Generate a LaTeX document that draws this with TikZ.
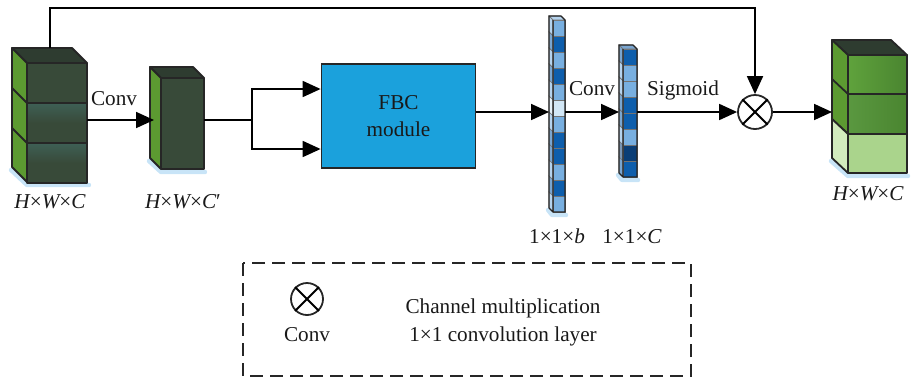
\documentclass[tikz,border=0pt]{standalone}
\usepackage{fontspec}
\setmainfont{Liberation Serif}
\usetikzlibrary{arrows.meta,positioning}
\definecolor{cubefront}{HTML}{384A39}
\definecolor{cubeteal}{HTML}{3E5F55}
\definecolor{cubeside}{HTML}{5C9A31}
\definecolor{cubetop}{HTML}{2E3C30}
\definecolor{outgreen}{HTML}{5FA23C}
\definecolor{outdark}{HTML}{4A8530}
\definecolor{outlight}{HTML}{AAD48C}
\definecolor{outside}{HTML}{D2EBBE}
\definecolor{fbcblue}{HTML}{1BA1DC}
\definecolor{glowblue}{HTML}{C8E4F7}
\definecolor{lb}{HTML}{78AFE0}
\definecolor{db}{HTML}{0E5EAC}
\definecolor{vb}{HTML}{D2E7F6}
\definecolor{kb}{HTML}{0B3E76}

\begin{document}
\begin{tikzpicture}[x=0.5pt, y=-0.5pt, line width=0.9pt,
	every node/.style={font=\fontsize{10.6}{13.5}\selectfont, text=black!90},
	arr/.style={-{Triangle[length=9pt,width=8pt]}},
	face/.style={draw=black!85, line join=round},
	cell/.style={draw=black!55, line width=0.35pt},
	glow/.style={draw=glowblue, line width=2.2pt, line cap=round, line join=round},
	lbl/.style={anchor=base}]
	\useasboundingbox (0,0) rectangle (914,381);

	\draw[glow] (11,170) -- (27,185) -- (89,185);
	\filldraw[face, fill=cubetop] (12,48) -- (72,48) -- (87,63) -- (27,63) -- cycle;
	\filldraw[face, fill=cubeside] (12,48) -- (27,63) -- (27,182) -- (12,167) -- cycle;
	\draw[face] (12,88) -- (27,103) (12,128) -- (27,143);
	\filldraw[face, fill=cubefront] (27,63) rectangle (87,103);
	\foreach \y in {103,143}
		\shadedraw[face, top color=cubeteal, bottom color=cubefront, middle color=cubefront] (27,\y) rectangle (87,\y+40);
	\coordinate (in1) at (50,48);
	\coordinate (in1e) at (87,120);
	\node[lbl] (lab1) at (50,208) {\itshape H\upshape×\itshape W\upshape×\itshape C};

	\draw[glow] (149,161) -- (161,172) -- (205,172);
	\filldraw[face, fill=cubetop] (150,67) -- (193,67) -- (204,78) -- (161,78) -- cycle;
	\filldraw[face, fill=cubeside] (150,67) -- (161,78) -- (161,169) -- (150,158) -- cycle;
	\filldraw[face, fill=cubefront] (161,78) rectangle (204,169);
	\coordinate (c2w) at (154,120);
	\coordinate (c2e) at (204,120);
	\node[lbl] (lab2) at (183,208) {\itshape H\upshape×\itshape W\upshape×\itshape C\upshape′};

	\draw[arr] (in1e) -- (c2w);
	\node[lbl] (conv1) at (114,105) {Conv};

	\node[draw=black!85, fill=fbcblue, minimum width=77pt, minimum height=52pt, align=center, inner sep=0pt] (fbc) at (398.5,116) {FBC\\module};
	\coordinate (split) at (252,120);
	\draw (c2e) -- (split);
	\draw[arr] (split) |- (fbc.west |- 0,89);
	\draw[arr] (split) |- (fbc.west |- 0,149);

	\draw[glow] (548,210) -- (552,215) -- (566,215);
	\foreach \c [count=\i from 0] in {lb,db,lb,db,lb,vb,lb,db,db,lb,db,lb} {
		\filldraw[cell, fill=\c!55!white] (549,16+16*\i) -- (553,20+16*\i) -- (553,36+16*\i) -- (549,32+16*\i) -- cycle;
		\filldraw[cell, fill=\c] (553,20+16*\i) rectangle (565,36+16*\i);
	}
	\filldraw[cell, fill=lb!55!white] (549,16) -- (561,16) -- (565,20) -- (553,20) -- cycle;
	\draw[face, line width=0.6pt] (549,16) -- (561,16) -- (565,20) -- (565,212) -- (553,212) -- (549,208) -- cycle (553,20) -- (553,212);
	\coordinate (v1w) at (549,112);
	\coordinate (v1e) at (565,112);
	\node[lbl] (lab3) at (557,243) {1×1×\itshape b};

	\draw[glow] (618,175) -- (622,180) -- (638,180);
	\foreach \c [count=\i from 0] in {db,lb,lb,db,db,lb,kb,db} {
		\filldraw[cell, fill=\c!55!white] (619,45+16*\i) -- (623,49+16*\i) -- (623,65+16*\i) -- (619,61+16*\i) -- cycle;
		\filldraw[cell, fill=\c] (623,49+16*\i) rectangle (637,65+16*\i);
	}
	\filldraw[cell, fill=db!55!white] (619,45) -- (633,45) -- (637,49) -- (623,49) -- cycle;
	\draw[face, line width=0.6pt] (619,45) -- (633,45) -- (637,49) -- (637,177) -- (623,177) -- (619,173) -- cycle (623,49) -- (623,177);
	\coordinate (v2w) at (619,112);
	\coordinate (v2e) at (637,112);
	\node[lbl] (lab4) at (632,243) {1×1×\itshape C};

	\draw[arr] (fbc.east |- v1w) -- (v1w);
	\draw[arr] (v1e) -- (v2w);
	\node[lbl] (conv2) at (592,95) {Conv};

	\node[draw=black!85, circle, minimum size=17pt, inner sep=0pt] (mult) at (755,112) {};
	\draw (mult.north west) -- (mult.south east) (mult.north east) -- (mult.south west);
	\draw[arr] (v2e) -- (mult.west);
	\node[lbl] (sig) at (683,95) {Sigmoid};

	\coordinate (fbtop) at (755,8);
	\draw[arr] (in1) |- (fbtop) -- (mult.north);

	\draw[glow] (831,161) -- (848,176) -- (908,176);
	\filldraw[face, fill=cubetop] (832,40) -- (891,40) -- (907,55) -- (848,55) -- cycle;
	\filldraw[face, fill=cubeside] (832,40) -- (848,55) -- (848,134) -- (832,119) -- cycle;
	\filldraw[face, fill=outside] (832,119) -- (848,134) -- (848,173) -- (832,158) -- cycle;
	\draw[face] (832,79) -- (848,94);
	\shadedraw[face, left color=outgreen, right color=outdark] (848,55) rectangle (907,94);
	\shadedraw[face, left color=outgreen!85!cubeteal, right color=outdark] (848,94) rectangle (907,134);
	\filldraw[face, fill=outlight] (848,134) rectangle (907,173);
	\coordinate (out) at (832,112);
	\draw[arr] (mult.east) -- (out);
	\node[lbl] (lab5) at (868,200) {\itshape H\upshape×\itshape W\upshape×\itshape C};

	\draw[draw=black!85, dash pattern=on 6.5pt off 3.5pt, line width=0.8pt] (243,263) rectangle (691,376);
	\node[draw=black!85, circle, minimum size=16pt, inner sep=0pt] (legmult) at (307,299) {};
	\draw (legmult.north west) -- (legmult.south east) (legmult.north east) -- (legmult.south west);
	\node[lbl] (legconv) at (307,341) {Conv};
	\node[lbl] (legtxt1) at (503,313) {Channel multiplication};
	\node[lbl] (legtxt2) at (503,341) {1×1 convolution layer};
\end{tikzpicture}
\end{document}
